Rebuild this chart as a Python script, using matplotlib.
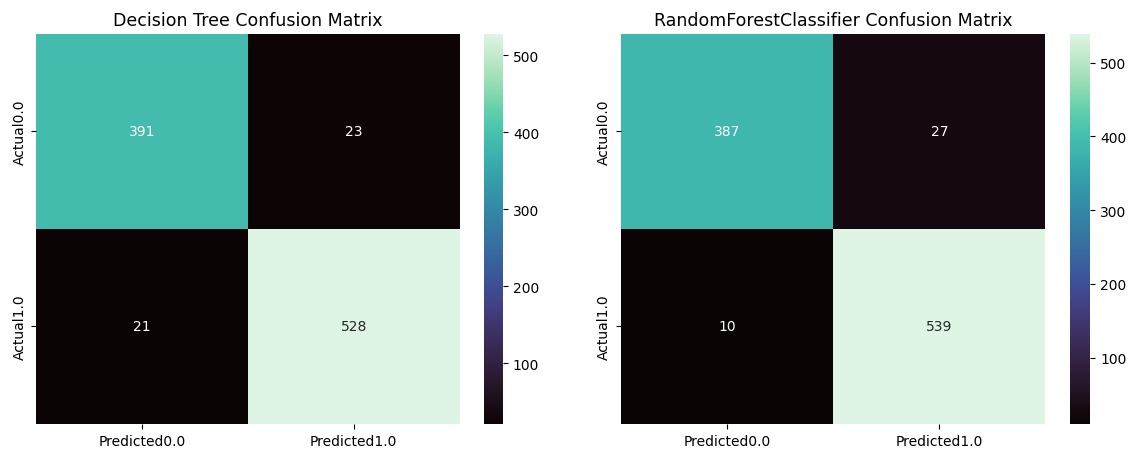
import numpy as np
import pandas as pd
import matplotlib
matplotlib.use("Agg")
import matplotlib.pyplot as plt
import seaborn as sns

labels_pred = ['Predicted0.0', 'Predicted1.0']
labels_act = ['Actual0.0', 'Actual1.0']

dt_cm = [[391, 23],
         [21, 528]]
rf_cm = [[387, 27],
         [10, 539]]

titles = ['Decision Tree Confusion Matrix', 'RandomForestClassifier Confusion Matrix']

fig = plt.figure(figsize=(11.29, 4.52), dpi=100)

# [heatmap axes, colorbar axes]
boxes = [
    ([0.032, 0.060, 0.375, 0.863], [0.4287, 0.060, 0.017, 0.863]),
    ([0.550, 0.060, 0.376, 0.863], [0.9477, 0.060, 0.018, 0.863]),
]

for cm, title, (hb, cb) in zip([dt_cm, rf_cm], titles, boxes):
    ax = fig.add_axes(hb)
    cax = fig.add_axes(cb)
    df = pd.DataFrame(np.array(cm), index=labels_act, columns=labels_pred)
    sns.heatmap(df, annot=True, fmt='d', cmap='mako', ax=ax, cbar_ax=cax)
    ax.set_title(title, fontsize=12.5)

fig.savefig('out.png', dpi=100)
